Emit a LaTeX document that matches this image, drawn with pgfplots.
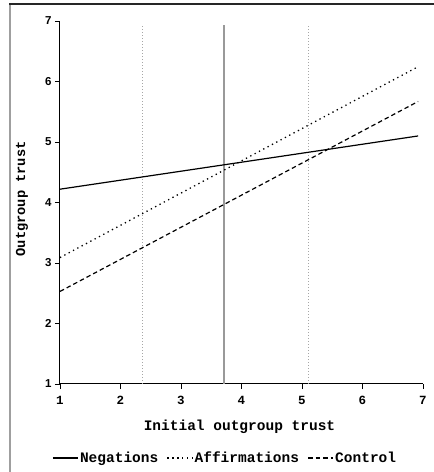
\documentclass[border=0pt]{standalone}
\usepackage{fontspec}
\setmainfont{Liberation Sans}
\newfontfamily\monof{Liberation Mono}
\usepackage{pgfplots}
\pgfplotsset{compat=1.18}
\begin{document}
\begin{tikzpicture}[x=1pt,y=1pt]
\useasboundingbox (0,0) rectangle (434,472);
\draw[gray!75, line width=1.3pt] (10,0) -- (10,468.5);
\draw[black!85, line width=1.2pt] (9.4,468) -- (434,468);
\begin{axis}[
  at={(60pt,88pt)}, anchor=south west,
  scale only axis, width=363pt, height=363pt,
  xmin=1, xmax=7, ymin=1, ymax=7,
  axis lines*=left,
  axis line style={black, line width=1pt},
  xtick={1,...,7}, ytick={1,...,7},
  tick align=outside, major tick length=5pt,
  tick style={black, line width=0.8pt},
  /pgf/number format/assume math mode=true,
  xticklabel style={font=\monof\bfseries\fontsize{12.5}{12.5}\selectfont, yshift=-4pt},
  yticklabel style={font=\bfseries\fontsize{11.5}{11.5}\selectfont},
  xlabel={Initial outgroup trust},
  ylabel={Outgroup trust},
  xlabel style={font=\monof\bfseries\fontsize{14.5}{14.5}\selectfont,
    at={(axis description cs:0.4945,-0.118)}, anchor=center},
  ylabel style={font=\monof\bfseries\fontsize{13.7}{13.7}\selectfont,
    at={(axis description cs:-0.105,0.51)}, anchor=center},
  legend columns=3,
  legend style={draw=none, fill=none, at={(0.4545,-0.204)}, anchor=center,
    font=\monof\bfseries\fontsize{14.5}{14.5}\selectfont,
    nodes={inner xsep=1.5pt},
    /tikz/every even column/.append style={column sep=7pt}},
  legend image code/.code={\draw[#1] (0pt,0pt) -- (25pt,0pt);},
  clip=false,
]
\addplot[gray!70, line width=1pt, dotted, forget plot] coordinates {(2.37,1) (2.37,6.93)};
\addplot[gray!80, line width=1.4pt, forget plot] coordinates {(3.71,1) (3.71,6.94)};
\addplot[gray!70, line width=1pt, dotted, forget plot] coordinates {(5.10,1) (5.10,6.93)};
\addplot[black, line width=1.2pt] coordinates {(1,4.22) (6.92,5.10)};
\addlegendentry{Negations}
\addplot[black, line width=1.3pt, dash pattern=on 1.3pt off 3.6pt] coordinates {(1,3.09) (6.92,6.245)};
\addlegendentry{Affirmations}
\addplot[black, line width=1.2pt, dash pattern=on 4.5pt off 3pt] coordinates {(1,2.53) (6.92,5.67)};
\addlegendentry{Control}
\end{axis}
\end{tikzpicture}
\end{document}
